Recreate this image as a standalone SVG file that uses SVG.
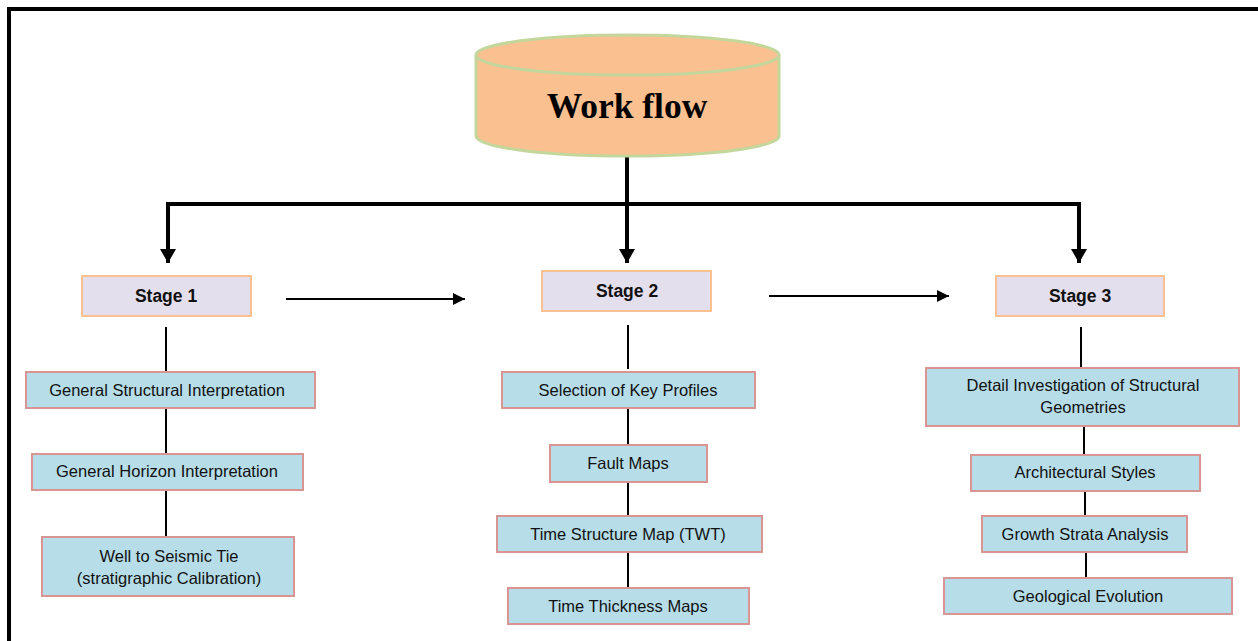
<svg xmlns="http://www.w3.org/2000/svg" width="1258" height="641" viewBox="0 0 1258 641">
<style>
.frame{fill:none;stroke:#000;stroke-width:4}
.cyl{fill:#FAC090;stroke:#C3D69B;stroke-width:3}
.stage{fill:#E4DFEC;stroke:#FAC090;stroke-width:2}
.task{fill:#B7DDE8;stroke:#D99594;stroke-width:2}
.thick{fill:none;stroke:#000;stroke-width:4}
.thin{fill:none;stroke:#000;stroke-width:2}
.st{font-family:"Liberation Sans",Arial,sans-serif;font-weight:bold;font-size:17.5px;fill:#111;text-anchor:middle}
.tk{font-family:"Liberation Sans",Arial,sans-serif;font-size:16.5px;fill:#111;text-anchor:middle}
.title{font-family:"Liberation Serif","Times New Roman",serif;font-weight:bold;font-size:35.5px;fill:#000;text-anchor:middle}
</style>
<defs>
<marker id="big" markerWidth="4" markerHeight="4" refX="3.5" refY="2" orient="auto" markerUnits="strokeWidth"><path d="M0,0 L3.5,2 L0,4 Z" fill="#000"/></marker>
<marker id="small" markerWidth="6" markerHeight="6" refX="6" refY="3" orient="auto" markerUnits="strokeWidth"><path d="M0,0 L6,3 L0,6 Z" fill="#000"/></marker>
</defs>
<rect class="frame" x="9" y="9" width="1260" height="650"/>
<g id="connectors">
<path class="thick" d="M627,156 V263" marker-end="url(#big)"/>
<path class="thick" d="M168,263 V204 H1079 V263" marker-end="url(#big)"/>
<path class="thick" d="M168,204 V263" marker-end="url(#big)"/>
<path class="thin" d="M286,299 H465" marker-end="url(#small)"/>
<path class="thin" d="M769,296 H949" marker-end="url(#small)"/>
<path class="thin" d="M166,327 V372 M166,409 V453 M166,491 V537"/>
<path class="thin" d="M628,325 V369 M628,409 V445 M628,482 V516 M628,552 V588"/>
<path class="thin" d="M1081,327 V368 M1084,427 V454 M1085,491 V516 M1086,552 V578"/>
</g>
<g id="workflow">
<path class="cyl" d="M476,55 V136 A151.5,20 0 0 0 779,136 V55"/>
<ellipse class="cyl" cx="627.5" cy="55" rx="151.5" ry="20"/>
<text class="title" x="627" y="118">Work flow</text>
</g>
<g id="stage1"><rect class="stage" x="82" y="276" width="169" height="40"/><text class="st" x="166" y="302">Stage 1</text></g>
<g id="stage2"><rect class="stage" x="542" y="271" width="169" height="40"/><text class="st" x="627" y="297">Stage 2</text></g>
<g id="stage3"><rect class="stage" x="996" y="276" width="168" height="40"/><text class="st" x="1080" y="302">Stage 3</text></g>
<g id="gsi"><rect class="task" x="26" y="372" width="289" height="36"/><text class="tk" x="167" y="396">General Structural Interpretation</text></g>
<g id="ghi"><rect class="task" x="32" y="454" width="271" height="36"/><text class="tk" x="167" y="477">General Horizon Interpretation</text></g>
<g id="well"><rect class="task" x="42" y="537" width="252" height="59"/><text class="tk" x="169" y="562">Well to Seismic Tie</text><text class="tk" x="169" y="584">(stratigraphic Calibration)</text></g>
<g id="skp"><rect class="task" x="502" y="372" width="253" height="36"/><text class="tk" x="628" y="396">Selection of Key Profiles</text></g>
<g id="fault"><rect class="task" x="550" y="445" width="157" height="37"/><text class="tk" x="628" y="469">Fault Maps</text></g>
<g id="tsm"><rect class="task" x="497" y="516" width="265" height="36"/><text class="tk" x="628" y="540">Time Structure Map (TWT)</text></g>
<g id="ttm"><rect class="task" x="508" y="588" width="241" height="36"/><text class="tk" x="628" y="612">Time Thickness Maps</text></g>
<g id="disg"><rect class="task" x="926" y="368" width="313" height="58"/><text class="tk" x="1083" y="391">Detail Investigation of Structural</text><text class="tk" x="1083" y="413">Geometries</text></g>
<g id="arch"><rect class="task" x="971" y="455" width="229" height="36"/><text class="tk" x="1085" y="478">Architectural Styles</text></g>
<g id="gsa"><rect class="task" x="982" y="516" width="205" height="36"/><text class="tk" x="1085" y="540">Growth Strata Analysis</text></g>
<g id="ge"><rect class="task" x="944" y="578" width="288" height="36"/><text class="tk" x="1088" y="602">Geological Evolution</text></g>
</svg>
